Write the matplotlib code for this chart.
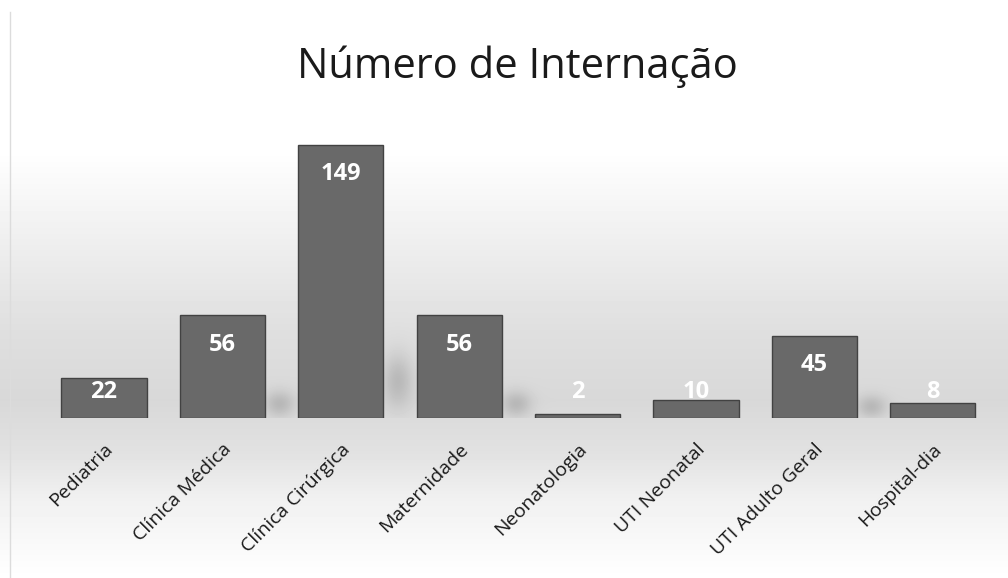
import numpy as np
import matplotlib
matplotlib.use("Agg")
import matplotlib.pyplot as plt

categories = ["Pediatria", "Clínica Médica", "Clínica Cirúrgica", "Maternidade",
              "Neonatologia", "UTI Neonatal", "UTI Adulto Geral", "Hospital-dia"]
values = [22, 56, 149, 56, 2, 10, 45, 8]
title = "Número de Internação"

plt.rcParams['font.family'] = ['Open Sans', 'DejaVu Sans']

W, H = 1008, 578
fig = plt.figure(figsize=(W / 100, H / 100), dpi=100)

base_px, top_px, ymax = 418, 124.9, 160
ax_rect = [44.8 / W, 1 - base_px / H, (992 - 44.8) / W, (base_px - top_px) / H]
n = len(categories)
slot = (992 - 44.8) / n
ppu = (base_px - top_px) / ymax

# background gradient (scanned Excel chart look) with soft bar shadows
bg = fig.add_axes([0, 0, 1, 1], zorder=0)
rows = np.array([0, 150, 250, 330, 400, 450, 500, 560, 578], float)
levels = np.array([255, 255, 237, 223, 216, 225, 241, 252, 255], float) / 255
col = np.interp(np.arange(H), rows, levels)
img = np.repeat(col[:, None], W, axis=1)
YY, XX = np.mgrid[0:H, 0:W]
above = YY < base_px
for i, v in enumerate(values):
    if v < 30:
        continue
    h = v * ppu
    cx = 44.8 + slot * (i + 0.5) + 0.36 * slot + 14
    cy = base_px - 0.14 * h
    sy = 5 + 0.08 * h
    img -= 0.13 * above * np.exp(-(((XX - cx) / 15) ** 2 + ((YY - cy) / sy) ** 2))
bg.imshow(img, cmap='gray', vmin=0, vmax=1, aspect='auto', extent=[0, W, H, 0])
bg.plot([10, 10], [12, 578], color='#dcdcdc', lw=1)
bg.set_xlim(0, W); bg.set_ylim(H, 0)
bg.axis('off')

ax = fig.add_axes(ax_rect, zorder=1)
ax.patch.set_alpha(0)
x = np.arange(n)
ax.bar(x, values, width=0.72, color='#696969', edgecolor='#424242', linewidth=1.0)
ax.set_xlim(-0.5, n - 0.5)
ax.set_ylim(0, ymax)
for s in ax.spines.values():
    s.set_visible(False)
ax.set_yticks([])
ax.set_xticks(x)
ax.set_xticklabels(categories, rotation=45, ha='right', rotation_mode='anchor',
                   fontsize=14, color='#1a1a1a')
ax.tick_params(axis='x', length=0, pad=16)

for xi, v in zip(x, values):
    ly = max(v - 16, 14)
    ax.text(xi, ly, str(v), ha='center', va='center', color='white',
            fontsize=17, fontweight='bold')

fig.text(517 / W, 1 - 67 / H, title, ha='center', va='center', fontsize=30, color='#1a1a1a')

fig.savefig("out.png", dpi=100)
